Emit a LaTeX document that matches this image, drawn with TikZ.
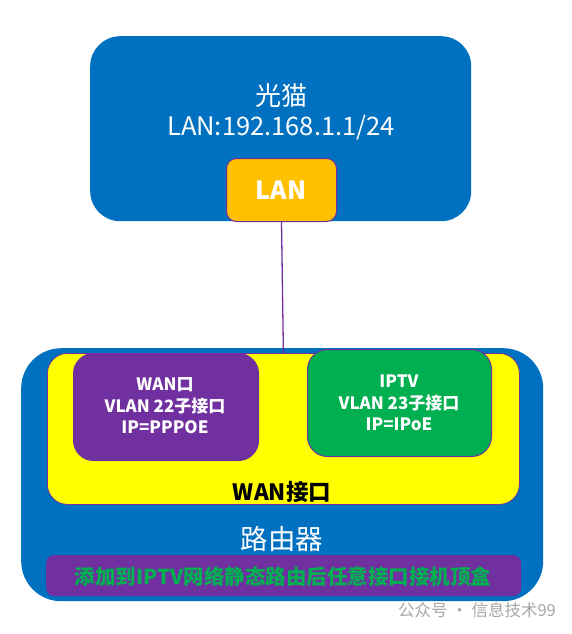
\documentclass[tikz,border=0pt]{standalone}
\usepackage{fontspec}
\setmainfont{Noto Sans CJK SC}
\usepackage{xcolor}
\usepackage{tikz}
\usetikzlibrary{positioning}
\definecolor{devblue}{HTML}{0070C0}
\definecolor{portgold}{HTML}{FFC000}
\definecolor{vlanpurple}{HTML}{7030A0}
\definecolor{iptvgreen}{HTML}{00B050}
\definecolor{wanyellow}{HTML}{FFFF00}
\tikzstyle{device} = [rectangle, fill=devblue, draw=none, anchor=north west]
\tikzstyle{port} = [rectangle, anchor=north west, draw=vlanpurple, line width=1pt]
\tikzstyle{label} = [text=white, align=center, inner sep=0pt]
\tikzstyle{link} = [draw=vlanpurple, line width=1.3pt]

\begin{document}
\begin{tikzpicture}[x=1pt,y=-1pt]
    \useasboundingbox (0,0) rectangle (571,634);
    % optical modem
    \node[device,rounded corners=30pt,minimum width=381pt,minimum height=185pt] (modem) at (90,36) {};
    \node[label,font=\fontsize{26}{30}\selectfont] (modemname) at (281,96) {光猫};
    \node[label,font=\fontsize{25.5}{30}\selectfont] (modemip) at (281,128) {LAN:192.168.1.1/24};
    \node[port,fill=portgold,rounded corners=10pt,minimum width=110pt,minimum height=63pt] (lan) at (226,158) {};
    \node[label,font=\bfseries\fontsize{25}{30}\selectfont] (lantext) at (281,190) {LAN};
    % router
    \node[device,rounded corners=40pt,minimum width=522pt,minimum height=253pt] (router) at (21,348) {};
    \node[port,fill=wanyellow,line width=0.8pt,rounded corners=20pt,minimum width=472pt,minimum height=151pt] (wanport) at (47,353) {};
    \node[port,fill=vlanpurple,rounded corners=20pt,minimum width=185pt,minimum height=107pt] (wan) at (73,353) {};
    \node[label,font=\bfseries\fontsize{17}{21.5}\selectfont] (wantext) at (165,406) {WAN口\\VLAN 22子接口\\IP=PPPOE};
    \node[port,fill=iptvgreen,rounded corners=20pt,minimum width=184pt,minimum height=107pt] (iptv) at (307,349) {};
    \node[label,font=\bfseries\fontsize{17}{21.5}\selectfont] (iptvtext) at (399,403) {IPTV\\VLAN 23子接口\\IP=IPoE};
    \node[label,text=black,font=\bfseries\fontsize{22.5}{26}\selectfont] (wanporttext) at (282,492) {WAN接口};
    \node[label,font=\fontsize{27.5}{32}\selectfont] (routername) at (282,539) {路由器};
    \node[rectangle,anchor=north west,fill=vlanpurple,rounded corners=8pt,minimum width=475pt,minimum height=41pt] (note) at (46,555) {};
    \node[label,text=iptvgreen,font=\bfseries\fontsize{20.5}{24}\selectfont] (notetext) at (283,577) {添加到IPTV网络静态路由后任意接口接机顶盒};
    % watermark
    \node[label,text=gray!70,font=\fontsize{16.5}{19}\selectfont] (mark) at (477,610) {公众号 · 信息技术99};

    \path[link] (lan.south) -- (wanport.north);

\end{tikzpicture}
\end{document}
